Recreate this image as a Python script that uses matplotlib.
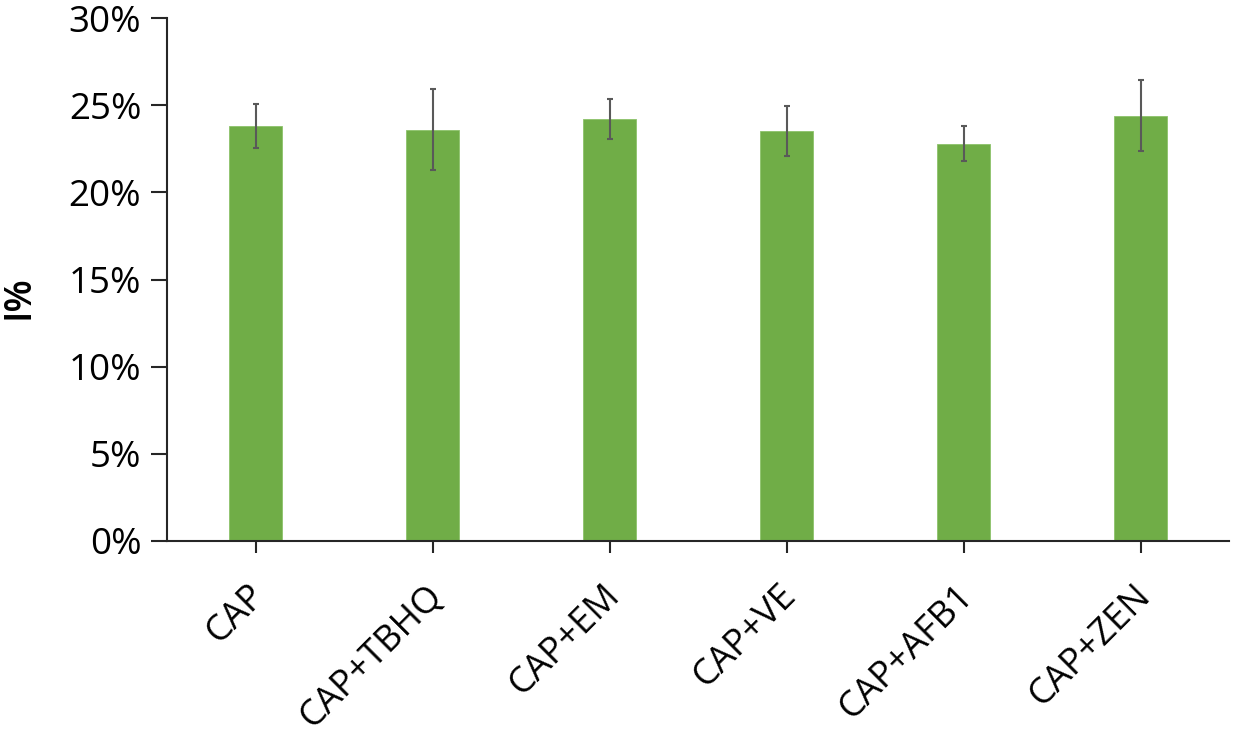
import matplotlib
matplotlib.use("Agg")
import matplotlib.pyplot as plt
from matplotlib.transforms import ScaledTranslation
import numpy as np

categories = ["CAP", "CAP+TBHQ", "CAP+EM", "CAP+VE", "CAP+AFB1", "CAP+ZEN"]
values = [23.8, 23.6, 24.2, 23.5, 22.8, 24.4]
errors = [1.25, 2.3, 1.15, 1.43, 1.03, 2.04]
yticks = [0, 5, 10, 15, 20, 25, 30]
ytick_labels = ["0%", "5%", "10%", "15%", "20%", "25%", "30%"]

plt.rcParams['font.family'] = ['Open Sans', 'DejaVu Sans']

fig = plt.figure(figsize=(12.36, 7.33), dpi=100)
ax = fig.add_axes([167/1236, 1-541/733, (1229-167)/1236, (541-18)/733])

x = np.arange(len(categories))
ax.bar(x, values, width=0.30, color="#70AD47", edgecolor="#8cc26a", linewidth=0.6,
       yerr=errors, error_kw=dict(ecolor="#595959", elinewidth=1.5, capsize=2.5, capthick=1.5),
       zorder=2)

ax.set_xlim(-0.5, 5.5)
ax.set_ylim(0, 30)
ax.set_yticks(yticks)
ax.set_yticklabels(ytick_labels, fontsize=26.5)
ax.set_xticks(x)
ax.set_xticklabels(categories, fontsize=26, rotation=45, ha='right', va='center',
                   rotation_mode='anchor')

for s in ['top', 'right']:
    ax.spines[s].set_visible(False)
for s in ['left', 'bottom']:
    ax.spines[s].set_linewidth(1.5)
    ax.spines[s].set_color('#262626')

ax.tick_params(axis='y', direction='out', length=11.5, width=1.5, color='#262626', pad=7)
ax.tick_params(axis='x', direction='out', length=8.5, width=1.5, color='#262626', pad=27)

off = ScaledTranslation(5/100, 0, fig.dpi_scale_trans)
for lab in ax.get_xticklabels():
    lab.set_transform(lab.get_transform() + off)

ax.set_ylabel("I%", fontsize=27, fontweight='semibold')
ax.yaxis.set_label_coords(38/1236, 1-297/733, transform=fig.transFigure)

fig.savefig("out.png", dpi=100)
